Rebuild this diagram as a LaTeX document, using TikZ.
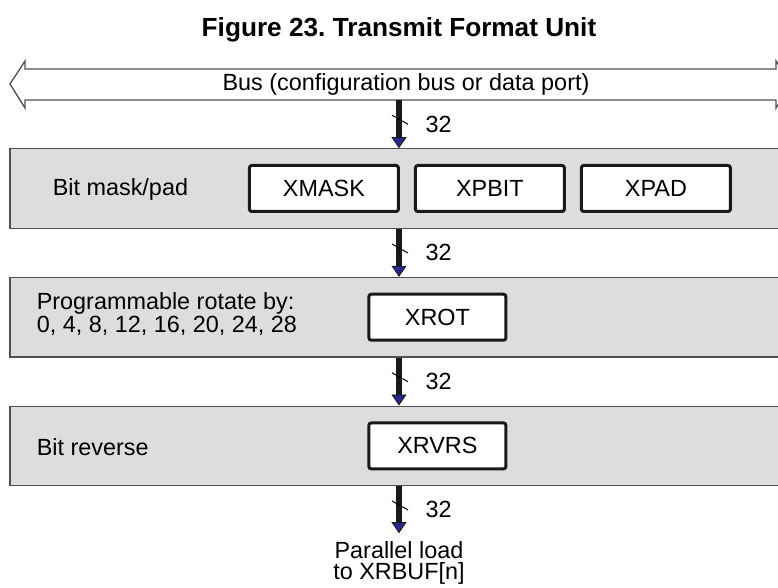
\documentclass[tikz,border=0pt]{standalone}
\usepackage{fontspec}
\setmainfont{Liberation Sans}
\usetikzlibrary{positioning,arrows.meta}
\definecolor{layergray}{RGB}{220,221,223}
\definecolor{rimgray}{RGB}{80,80,80}
\definecolor{tipblue}{RGB}{40,40,140}
\tikzset{
  layer/.style={rectangle, draw=rimgray, fill=layergray, line width=0.6pt,
    minimum width=389pt, minimum height=39.75pt, inner sep=0pt},
  regbox/.style={rectangle, draw=black!90, fill=white, line width=1.5pt,
    rounded corners=1.2pt, minimum width=74.5pt, minimum height=23pt},
  layertext/.style={inner sep=0pt, align=left},
  buspipe/.style={draw=rimgray, fill=white, line width=0.65pt},
  bitbus/.style={draw=black!90, line width=2.6pt,
    -{Triangle[width=7.5pt,length=5.5pt,fill=tipblue,line width=0.4pt]}},
  buswidth/.style={anchor=west, inner sep=0pt, xshift=12pt},
  cutmark/.style={draw=black, line width=0.5pt}
}

\begin{document}
\frenchspacing
\begin{tikzpicture}[x=0.5pt, y=-0.5pt,
    every node/.append style={font=\fontsize{11.7}{11.3}\selectfont}]
    \useasboundingbox (0,0) rectangle (778,588);
    \clip (0,0) rectangle (778,588);
    % Title
    \node (title) at (399,30) {\fontsize{13.1}{15}\selectfont\bfseries Figure 23. Transmit Format Unit};
    % Bus
    \draw[buspipe] (791,84) -- (776,61) -- (776,69) -- (25,69) -- (25,61) -- (10,84)
        -- (25,108) -- (25,100) -- (776,100) -- (776,108) -- cycle;
    \node (bus) at (406,84) {Bus (configuration bus or data port)};
    \coordinate (busport) at (399,100);
    % Place layers
    \node [layer] (maskpad) at (399,188.5) {};
    \node [layer, below=24pt of maskpad] (rot) {};
    \node [layer, below=24pt of rot] (rvrs) {};
    \node [layertext, right=21.5pt of maskpad.west, yshift=-0.5pt] (masktext) {Bit mask/pad};
    \node [layertext, right=13.5pt of rot.west, yshift=1.5pt] (rottext) {Programmable rotate by:\\0, 4, 8, 12, 16, 20, 24, 28};
    \node [layertext, right=13.5pt of rvrs.west, yshift=-0.5pt] (rvrstext) {Bit reverse};
    % Registers
    \node [regbox, right=119.25pt of maskpad.west] (xmask) {XMASK};
    \node [regbox, right=7pt of xmask] (xpbit) {XPBIT};
    \node [regbox, right=7pt of xpbit] (xpad) {XPAD};
    \node [regbox, minimum width=68.5pt, right=179pt of rot.west] (xrot) {XROT};
    \node [regbox, minimum width=68.5pt, right=179pt of rvrs.west] (xrvrs) {XRVRS};
    \node [layertext, align=center, outer sep=4pt, below=23.5pt of rvrs,
        font=\fontsize{11.7}{10.6}\selectfont] (loadout) {Parallel load\\to XRBUF[n]};
    % Draw edges
    \path [bitbus] (busport) -- coordinate[pos=.41] (cut0) node[buswidth, pos=.5] {32} (maskpad);
    \path [bitbus] (maskpad) -- coordinate[pos=.41] (cut1) node[buswidth, pos=.5] {32} (rot);
    \path [bitbus] (rot) -- coordinate[pos=.41] (cut2) node[buswidth, pos=.5] {32} (rvrs);
    \path [bitbus] (rvrs) -- coordinate[pos=.41] (cut3) node[buswidth, pos=.5] {32} (loadout);
    \foreach \c in {cut0,cut1,cut2,cut3}
        \draw [cutmark] (\c) ++(-7,-4.5) -- ++(16,9);
\end{tikzpicture}
\end{document}
